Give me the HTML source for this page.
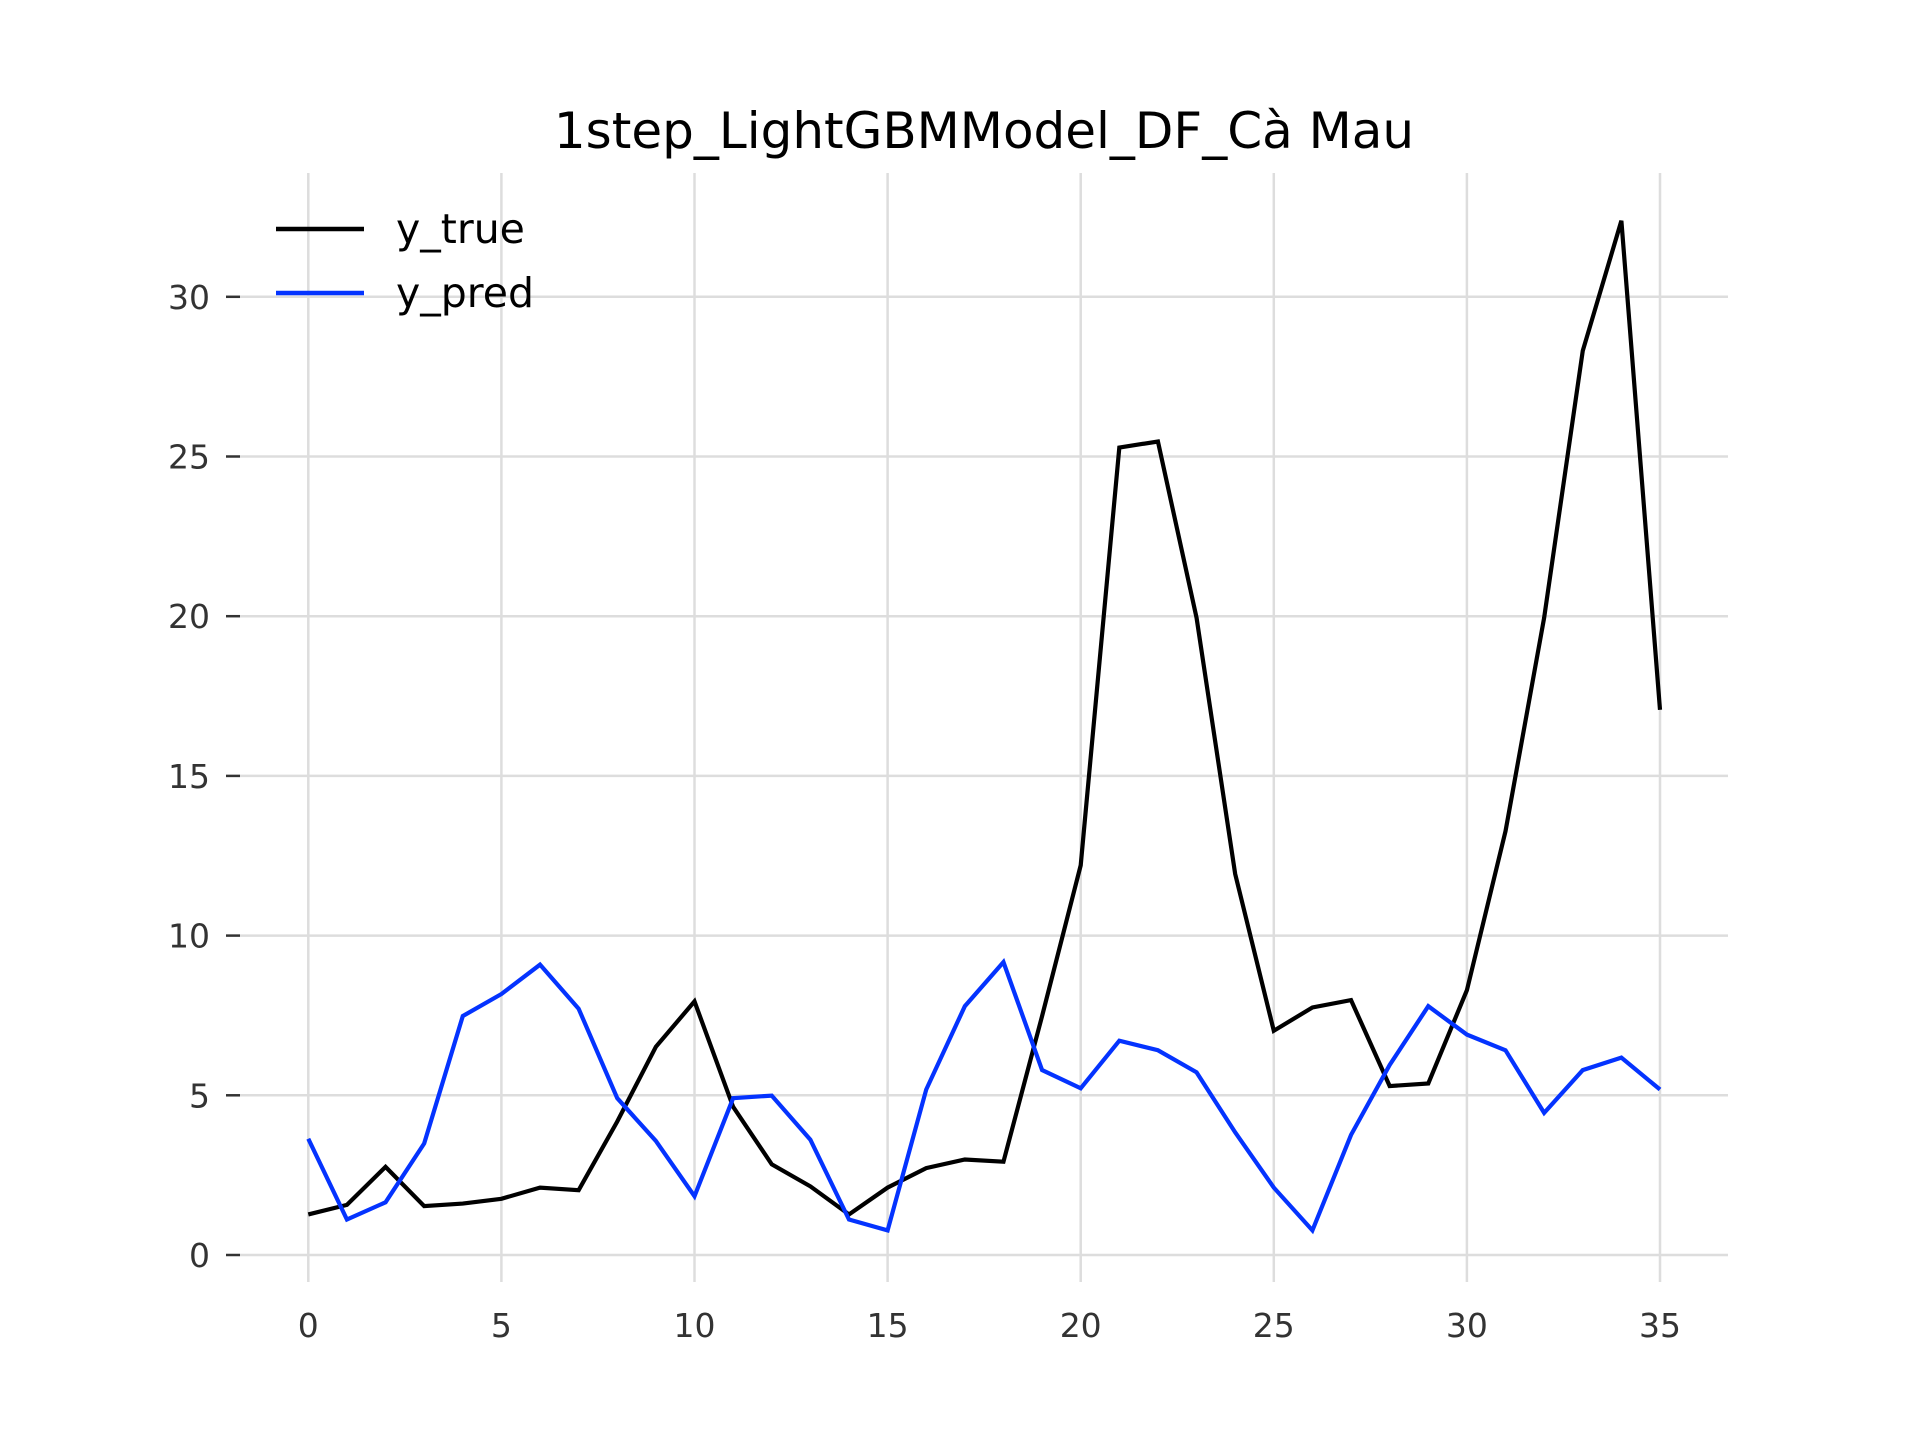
<!DOCTYPE html>
<html><head><meta charset="utf-8">
<style>
html,body{margin:0;padding:0;background:#fff;}
svg{display:block;font-family:"DejaVu Sans","Liberation Sans",sans-serif;}
</style></head>
<body>
<svg id="chart" width="1920" height="1440" viewBox="0 0 1920 1440">
<rect width="1920" height="1440" fill="#fff"/>
<text x="984" y="148" font-size="50" text-anchor="middle" fill="#000">1step_LightGBMModel_DF_Cà Mau</text>
<g id="grid"></g>
<g id="ticks"></g>
<g id="series"></g>
<g>
  <line x1="276" y1="229" x2="364" y2="229" stroke="#000" stroke-width="4.5"/>
  <text x="396" y="243" font-size="41" fill="#000">y_true</text>
  <line x1="276" y1="293" x2="364" y2="293" stroke="#0433ff" stroke-width="4.5"/>
  <text x="396" y="307" font-size="41" fill="#000">y_pred</text>
</g>
</svg>
<script>
const xTicks = [0,5,10,15,20,25,30,35];
const yTicks = [0,5,10,15,20,25,30];
const yTrue = [1.27,1.57,2.76,1.53,1.61,1.76,2.11,2.03,4.18,6.52,7.94,4.64,2.84,2.15,1.27,2.11,2.72,2.99,2.92,7.48,12.2,25.28,25.47,19.95,11.93,7.02,7.75,7.98,5.29,5.37,8.29,13.27,19.95,28.31,32.38,17.07];
const yPred = [3.64,1.11,1.65,3.49,7.48,8.17,9.09,7.71,4.91,3.57,1.84,4.91,4.99,3.61,1.11,0.77,5.18,7.79,9.17,5.79,5.22,6.71,6.41,5.72,3.84,2.11,0.77,3.76,5.95,7.79,6.90,6.41,4.45,5.79,6.18,5.18];

const NS='http://www.w3.org/2000/svg';
const X = v => 308.3 + v*38.62;
const Y = v => 1255 - v*31.94;
const L=240, R=1728, T=173, B=1282;
function mk(tag, attrs, parent){const e=document.createElementNS(NS,tag);for(const k in attrs)e.setAttribute(k,attrs[k]);parent.appendChild(e);return e;}
const grid=document.getElementById('grid'), ticks=document.getElementById('ticks'), series=document.getElementById('series');
xTicks.forEach(t=>{
  const g=mk('line',{x1:X(t),x2:X(t),y1:T,y2:B,stroke:'#dddddd','stroke-width':2.5},grid);
  
  
  const lb=mk('text',{x:X(t),y:1337,'font-size':33,'text-anchor':'middle',fill:'#333'},ticks);
  lb.textContent=t;
  
  
});
yTicks.forEach(t=>{
  const g=mk('line',{x1:L,x2:R,y1:Y(t),y2:Y(t),stroke:'#dddddd','stroke-width':2.5},grid);
  
  
  const tk=mk('line',{x1:226,x2:240,y1:Y(t),y2:Y(t),stroke:'#333','stroke-width':2.5},ticks);
  
  
  const lb=mk('text',{x:210,y:Y(t)+12,'font-size':33,'text-anchor':'end',fill:'#333'},ticks);
  lb.textContent=t;
  
  
});
function line(data,color,name){
  const p=mk('polyline',{points:data.map((v,i)=>X(i)+','+Y(v)).join(' '),fill:'none',stroke:color,'stroke-width':4.2,'stroke-linejoin':'miter'},series);
  
  
}
line(yTrue,'#000000','y-true-line');
line(yPred,'#0433ff','y-pred-line');
</script>
</body></html>
